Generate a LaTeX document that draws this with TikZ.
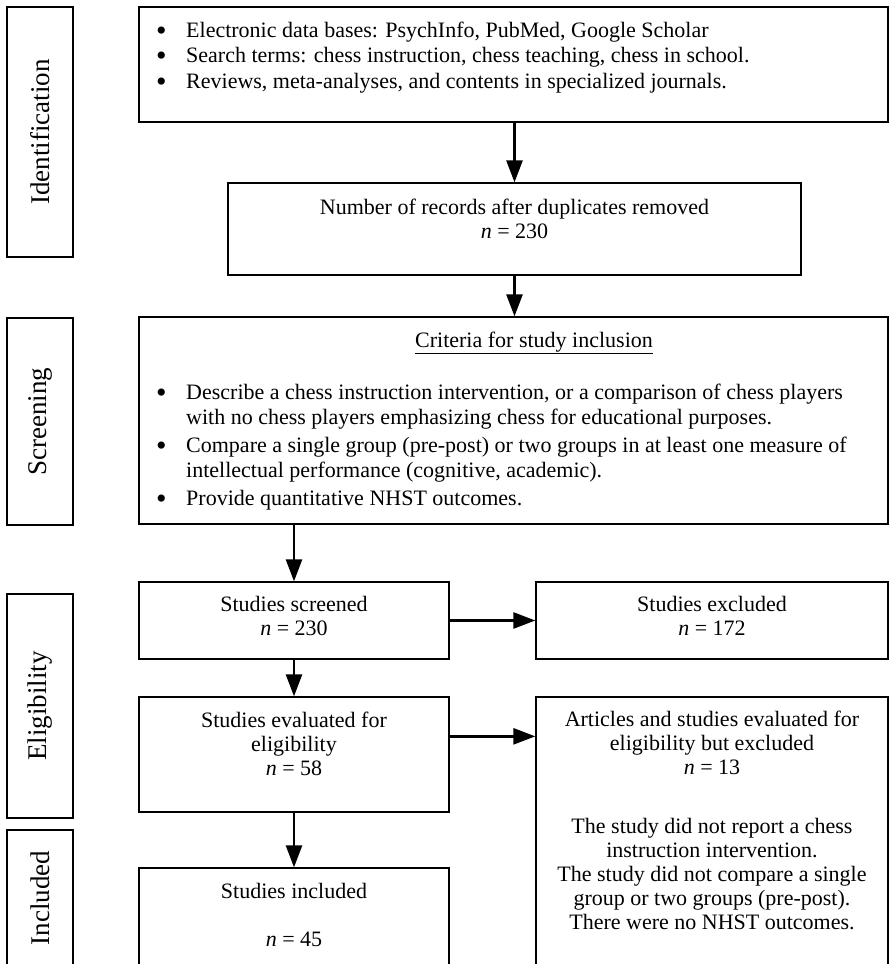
\documentclass[tikz,border=0pt]{standalone}
\usepackage{fontspec}
\setmainfont{Liberation Serif}
\usetikzlibrary{arrows.meta,positioning}
\newcommand{\nn}[1]{\textit{n} = #1}
\newcommand{\bul}{\raisebox{-3pt}[0pt][0pt]{\fontsize{30}{0}\selectfont\textbullet}}

\begin{document}
\begin{tikzpicture}[
  x=1pt, y=-1pt,
  font=\fontsize{22}{24}\selectfont,
  box/.style={draw,line width=1.3pt,inner sep=0pt},
  stage/.style={draw,line width=1.3pt,rotate=90,inner sep=0pt,minimum height=66pt,
                font=\fontsize{27}{30}\selectfont},
  txt/.style={inner sep=0pt,align=center},
  list/.style={inner sep=0pt,anchor=north west,font=\fontsize{22}{25.5}\selectfont},
  arrow/.style={line width=2.6pt,-{Triangle[width=16pt,length=22pt]}}
]
\clip (0,0) rectangle (889,964);
% stage labels on the left
\node[stage,minimum width=250pt] (ident) at (40,132) {Identification};
\node[stage,minimum width=207pt] (screen) at (40,421.5) {Screening};
\node[stage,minimum width=224pt] (elig) at (40,706) {Eligibility};
\node[stage,minimum width=136pt] (inclL) at (40,898) {Included};

% boxes
\node[box,minimum width=749pt,minimum height=115pt] (search) at (513.5,64.5) {};
\node[box,minimum width=573pt,minimum height=92pt] (rec) at (514.5,229) {};
\node[box,minimum width=749pt,minimum height=207pt] (crit) at (513.5,420.5) {};
\node[box,minimum width=310pt,minimum height=77pt] (scr) at (294,620.5) {};
\node[box,minimum width=352pt,minimum height=77pt] (exc) at (712,620.5) {};
\node[box,minimum width=310pt,minimum height=115pt] (eval) at (294,754.5) {};
\node[box,minimum width=352pt,minimum height=303pt] (excB) at (712,848.5) {};
\node[box,minimum width=310pt,minimum height=132pt] (incl) at (294,934) {};

% texts
\node[list] (searchT) at (156,19) {\begin{tabular}{@{}p{30pt}@{}l@{}}
  \bul & Electronic data bases: PsychInfo, PubMed, Google Scholar\\
  \bul & Search terms: chess instruction, chess teaching, chess in school.\\
  \bul & Reviews, meta-analyses, and contents in specialized journals.
\end{tabular}};
\node[txt,below=16pt of rec.north] (recT) {Number of records after duplicates removed\\\nn{230}};
\node[txt,anchor=base] (critH) at (534,347) {\underline{Criteria for study inclusion}};
\node[list] (critT) at (156,381) {\begin{tabular}{@{}p{30pt}@{}l@{}}
  \bul & Describe a chess instruction intervention, or a comparison of chess players\\
  & with no chess players emphasizing chess for educational purposes.\\[2pt]
  \bul & Compare a single group (pre-post) or two groups in at least one measure of\\
  & intellectual performance (cognitive, academic).\\[2pt]
  \bul & Provide quantitative NHST outcomes.
\end{tabular}};
\node[txt,below=15pt of scr.north] (scrT) {Studies screened\\\nn{230}};
\node[txt,below=15pt of exc.north] (excT) {Studies excluded\\\nn{172}};
\node[txt,below=15pt of eval.north] (evalT) {Studies evaluated for\\eligibility\\\nn{58}};
\node[txt,below=14pt of excB.north] (excBT) {Articles and studies evaluated for\\eligibility but excluded\\\nn{13}\\[35pt]
  The study did not report a chess\\instruction intervention.\\
  The study did not compare a single\\group or two groups (pre-post).\\
  There were no NHST outcomes.};
\node[txt,below=16pt of incl.north] (inclT) {Studies included\\[24pt]\nn{45}};

% connectors
\draw[arrow] (rec.north |- search.south) -- (rec.north);
\draw[arrow] (rec.south) -- (rec.south |- crit.north);
\draw[arrow] (scr.north |- crit.south) -- (scr.north);
\draw[arrow] (scr.east) -- (exc.west);
\draw[arrow] (scr.south) -- (eval.north);
\draw[arrow] ([yshift=-40pt]eval.north east) -- ([yshift=-40pt]eval.north east -| excB.west);
\draw[arrow] (eval.south) -- (incl.north);
\end{tikzpicture}
\end{document}
